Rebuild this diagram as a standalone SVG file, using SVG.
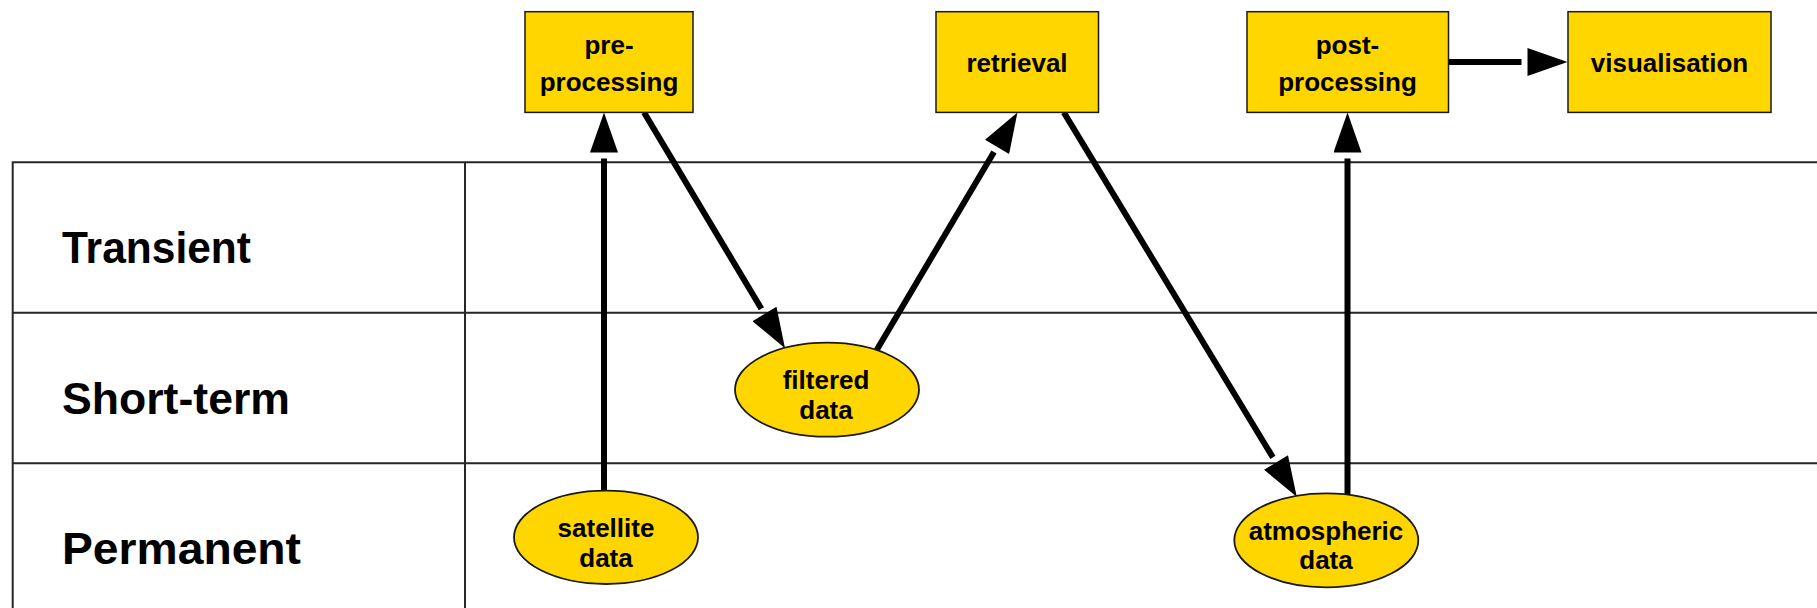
<svg xmlns="http://www.w3.org/2000/svg" width="1817" height="608" viewBox="0 0 1817 608">
  <style>
    .grid { stroke: #262626; stroke-width: 2; fill: none; }
    .rowlabel { font-family: "Liberation Sans", Arial, sans-serif; font-weight: bold; font-size: 44px; fill: #000; }
    .box { fill: #FFD600; stroke: #1a1a1a; stroke-width: 1.5; }
    .store { fill: #FFD600; stroke: #1a1a1a; stroke-width: 1.8; }
    .label { font-family: "Liberation Sans", Arial, sans-serif; font-weight: bold; font-size: 26px; fill: #000; text-anchor: middle; }
    .flow { stroke: #000; stroke-width: 6; fill: none; marker-end: url(#head); }
  </style>
  <defs>
    <!-- arrowhead sits 6px past the end of the shaft, leaving a small gap -->
    <marker id="head" markerUnits="userSpaceOnUse" viewBox="0 -14 46 28" markerWidth="46" markerHeight="28" refX="0" refY="0" orient="auto">
      <path d="M6,-14 L46,0 L6,14 Z" fill="#000"/>
    </marker>
  </defs>
  <rect width="1817" height="608" fill="#fff"/>

  <!-- storage lifetime table -->
  <g id="table">
    <path class="grid" d="M12.7,608 V162.3 H1817 M465,162.3 V608 M12.7,312.7 H1817 M12.7,463.3 H1817"/>
    <text class="rowlabel" x="62" y="263" textLength="189" lengthAdjust="spacingAndGlyphs">Transient</text>
    <text class="rowlabel" x="62" y="413.5" textLength="228" lengthAdjust="spacingAndGlyphs">Short-term</text>
    <text class="rowlabel" x="62" y="564" textLength="239" lengthAdjust="spacingAndGlyphs">Permanent</text>
  </g>

  <!-- data flow connectors -->
  <g id="connectors">
    <line class="flow" x1="604" y1="490.5" x2="604" y2="158.4"/>
    <line class="flow" x1="644" y1="112.4" x2="761.4" y2="308.8"/>
    <line class="flow" x1="876.7" y1="350" x2="994" y2="152"/>
    <line class="flow" x1="1063.8" y1="112.4" x2="1272.9" y2="457.4"/>
    <line class="flow" x1="1347.5" y1="494.3" x2="1347.5" y2="158.4"/>
    <line class="flow" x1="1448.5" y1="62" x2="1521.5" y2="62"/>
  </g>

  <!-- processing steps -->
  <g id="preprocessing">
    <rect class="box" x="525" y="11.7" width="168" height="100.7"/>
    <text class="label" x="609" y="54">pre-</text>
    <text class="label" x="609" y="91">processing</text>
  </g>
  <g id="retrieval">
    <rect class="box" x="936" y="11.7" width="162.5" height="100.7"/>
    <text class="label" x="1017" y="72">retrieval</text>
  </g>
  <g id="postprocessing">
    <rect class="box" x="1247" y="11.7" width="201.5" height="100.7"/>
    <text class="label" x="1347.5" y="54">post-</text>
    <text class="label" x="1347.5" y="91">processing</text>
  </g>
  <g id="visualisation">
    <rect class="box" x="1568" y="11.7" width="203" height="100.7"/>
    <text class="label" x="1669.5" y="72">visualisation</text>
  </g>

  <!-- data stores -->
  <g id="satellite-data">
    <ellipse class="store" cx="606" cy="537.3" rx="92" ry="46.7"/>
    <text class="label" x="606" y="536.7">satellite</text>
    <text class="label" x="606" y="566.7">data</text>
  </g>
  <g id="filtered-data">
    <ellipse class="store" cx="827" cy="389.7" rx="92" ry="47"/>
    <text class="label" x="826" y="389.3">filtered</text>
    <text class="label" x="826" y="419">data</text>
  </g>
  <g id="atmospheric-data">
    <ellipse class="store" cx="1326.3" cy="540.3" rx="92" ry="47"/>
    <text class="label" x="1326" y="540">atmospheric</text>
    <text class="label" x="1326" y="569.3">data</text>
  </g>
</svg>
